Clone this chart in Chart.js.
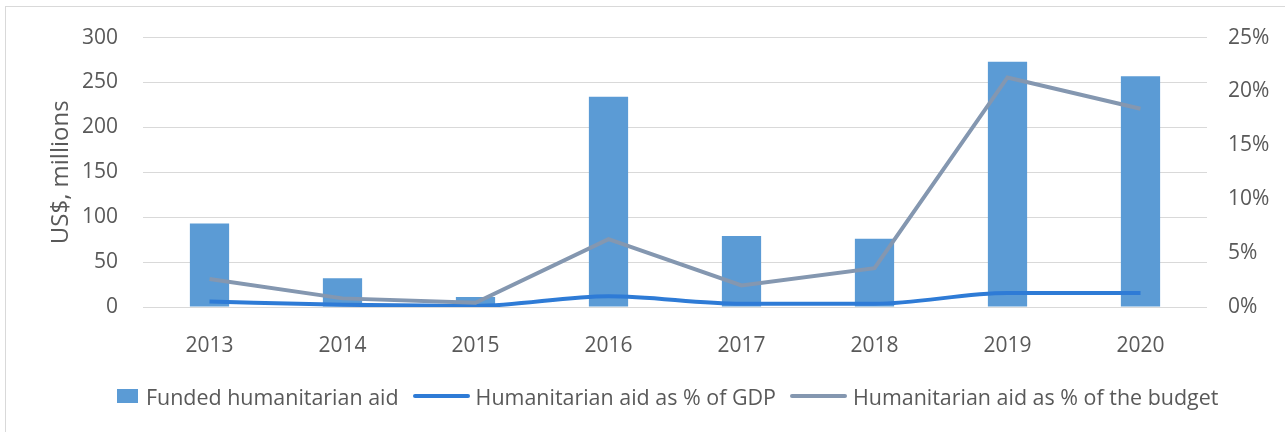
<!DOCTYPE html>
<html>
<head>
<meta charset="utf-8">
<script src="https://cdn.jsdelivr.net/npm/chart.js@4/dist/chart.umd.min.js"></script>
<style>
  body { margin: 0; background: #fff; overflow: hidden; }
  #frame {
    position: absolute; left: 5px; top: 6px; width: 1300px; height: 450px;
    border: 1px solid #d9d9d9;
  }
  #chart { position: absolute; left: 0; top: 0; }
  #legend {
    position: absolute; left: 117px; top: 382px; height: 28px;
    display: flex; align-items: center;
    font-family: 'Open Sans', sans-serif; font-size: 21.45px; color: #595959;
    white-space: nowrap;
  }
  #legend .box { width: 21px; height: 14px; margin-right: 8px; }
  #legend .line { width: 57px; height: 4px; border-radius: 2px; margin-right: 6px; }
  #legend .gap { width: 14px; }
</style>
</head>
<body>
<div id="frame"></div>
<canvas id="chart" width="1285" height="432"></canvas>
<div id="legend"></div>
<script>
const years = ['2013', '2014', '2015', '2016', '2017', '2018', '2019', '2020'];
const fundedAid = [93, 32, 11, 234, 79, 76, 273, 257];        // US$ millions
const aidPctGdp = [0.5, 0.2, 0.1, 1.0, 0.3, 0.3, 1.3, 1.3];     // %
const aidPctBudget = [2.6, 0.8, 0.4, 6.3, 2.0, 3.6, 21.3, 18.4]; // %

const seriesNames = ['Funded humanitarian aid', 'Humanitarian aid as % of GDP', 'Humanitarian aid as % of the budget'];
const colors = ['#5b9bd5', '#2e7bd6', '#8497b0'];

Chart.defaults.font.family = "'Open Sans', sans-serif";
Chart.defaults.font.size = 21;
Chart.defaults.color = '#595959';

const ctx = document.getElementById('chart').getContext('2d');

new Chart(ctx, {
  type: 'bar',
  data: {
    labels: years,
    datasets: [
      {
        label: seriesNames[0],
        data: fundedAid,
        backgroundColor: colors[0],
        yAxisID: 'y',
        order: 3,
        categoryPercentage: 1,
        barPercentage: 0.295,
      },
      {
        type: 'line',
        label: seriesNames[1],
        data: aidPctGdp,
        borderColor: colors[1],
        borderWidth: 4,
        pointRadius: 0,
        cubicInterpolationMode: 'monotone',
        yAxisID: 'y1',
        order: 2,
      },
      {
        type: 'line',
        label: seriesNames[2],
        data: aidPctBudget,
        borderColor: colors[2],
        borderWidth: 4,
        pointRadius: 0,
        tension: 0,
        yAxisID: 'y1',
        order: 1,
      },
    ],
  },
  options: {
    responsive: false,
    animation: false,
    layout: { padding: { left: 43, right: 0, top: 36, bottom: 0 } },
    plugins: {
      legend: { display: false },
      tooltip: { enabled: false },
    },
    scales: {
      x: {
        grid: { display: false },
        border: { display: false },
        ticks: { padding: 18 },
        afterFit: (scale) => { scale.height = 125; },
      },
      y: {
        position: 'left',
        min: 0,
        max: 300,
        ticks: { stepSize: 50, padding: 25 },
        grid: { color: '#d9d9d9', drawTicks: false },
        border: { display: false },
        title: { display: true, text: 'US$, millions', padding: 4, font: { size: 24 } },
        afterFit: (scale) => { scale.width = 100; },
      },
      y1: {
        position: 'right',
        min: 0,
        max: 25,
        ticks: { stepSize: 5, padding: 21, callback: (v) => v + '%' },
        grid: { display: false, drawTicks: false },
        border: { display: false },
        afterFit: (scale) => { scale.width = 78; },
      },
    },
  },
});

// legend below the plot
const legend = document.getElementById('legend');
seriesNames.forEach((name, i) => {
  if (i > 0) {
    const gap = document.createElement('span');
    gap.className = 'gap';
    legend.appendChild(gap);
  }
  const mark = document.createElement('span');
  mark.className = i === 0 ? 'box' : 'line';
  mark.style.background = colors[i];
  legend.appendChild(mark);
  const text = document.createElement('span');
  text.textContent = name;
  legend.appendChild(text);
});
</script>
</body>
</html>
